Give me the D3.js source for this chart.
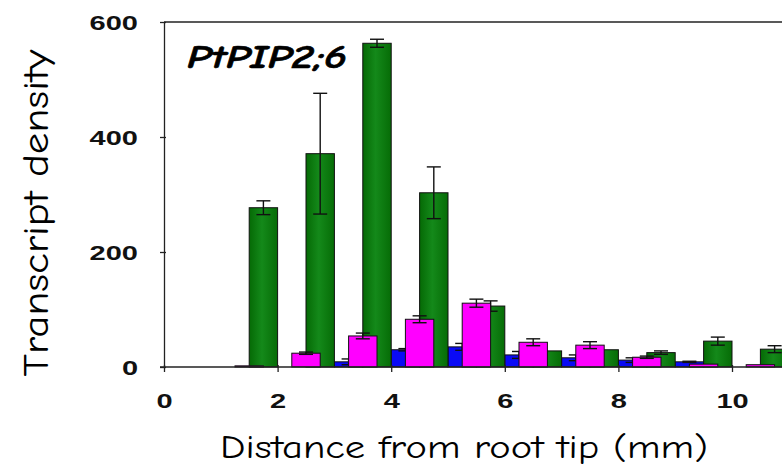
<!DOCTYPE html>
<html>
<head>
<meta charset="utf-8">
<script src="https://cdn.jsdelivr.net/npm/d3@7"></script>
<style>
  html, body { margin: 0; padding: 0; background: #fff; }
  svg { display: block; }
</style>
</head>
<body>
<svg id="chart" width="782" height="470"></svg>
<script>
// ---- data ----
const categories = [0, 1, 2, 3, 4, 5, 6, 7, 8, 9, 10];          // start of each 1 mm segment
const blueValues    = [0, 0, 0, 9, 30, 35, 21, 16, 12, 9, 0];
const blueErrors    = [0, 0, 0, 5, 2, 6, 6, 5, 4, 1, 0];
const magentaValues = [0, 2, 24, 54, 83, 111, 43, 38, 17, 5, 4];
const magentaErrors = [0, 0, 2, 5, 6, 7, 6, 6, 2, 0, 0];
const greenValues   = [0, 277, 371, 563, 303, 106, 28, 30, 25, 45, 31];
const greenErrors   = [0, 12, 105, 7, 45, 9, 0, 0, 3, 7, 6];
const yTicks = [0, 200, 400, 600];
const xTicks = [0, 2, 4, 6, 8, 10];
const xTickLabels = ["0", "2", "4", "6", "8", "10"];
const geneLabel = "PtPIP2;6";
const xTitle = "Distance from root tip (mm)";
const yTitle = "Transcript density";

// ---- layout ----
const svg = d3.select("#chart");
svg.append("rect").attr("width", 782).attr("height", 470).attr("fill", "#fff");

const x = d3.scaleLinear().domain([0, 10]).range([164, 732]);
const y = d3.scaleLinear().domain([0, 600]).range([367, 22]);
const xEnd = x(12);
const stretch = 1.45;
const comic = "'Comic Sans MS','Comic Neue','Noto Sans','DejaVu Sans',sans-serif";

// green gradient
const defs = svg.append("defs");
const g1 = defs.append("linearGradient").attr("id", "gGreen").attr("x1", "0").attr("x2", "1").attr("y1", "0").attr("y2", "0");
g1.append("stop").attr("offset", "0%").attr("stop-color", "#056a05");
g1.append("stop").attr("offset", "45%").attr("stop-color", "#14891a");
g1.append("stop").attr("offset", "100%").attr("stop-color", "#066c06");

// series: offsets within each 1 mm segment (bars overlap by half)
const series = [
  { name: "blue",    values: blueValues,    errors: blueErrors,    fill: "#0a0af5",        off: 0.0 },
  { name: "green",   values: greenValues,   errors: greenErrors,   fill: "url(#gGreen)",   off: 0.5 },
  { name: "magenta", values: magentaValues, errors: magentaErrors, fill: "#ff00ff",        off: 0.25 }
];
const barW = 0.5;

// top border
svg.append("line").attr("x1", x(0)).attr("x2", xEnd).attr("y1", y(600)).attr("y2", y(600))
  .attr("stroke", "#222").attr("stroke-width", 1.3);

// bars
series.forEach(s => {
  const gg = svg.append("g").attr("class", "series-" + s.name);
  gg.selectAll("rect").data(categories.map((c, i) => ({ c, v: s.values[i] })).filter(d => d.v > 0))
    .join("rect")
    .attr("x", d => x(d.c + s.off))
    .attr("width", d => x(d.c + s.off + barW) - x(d.c + s.off))
    .attr("y", d => y(d.v))
    .attr("height", d => y(0) - y(d.v))
    .attr("fill", s.fill)
    .attr("stroke", "#111")
    .attr("stroke-width", 1);
  const eb = categories.map((c, i) => ({ c, v: s.values[i], e: s.errors[i] })).filter(d => d.e > 0);
  const eg = gg.append("g").attr("stroke", "#111").attr("stroke-width", 1.4);
  eb.forEach(d => {
    const cx = x(d.c + s.off + barW / 2);
    eg.append("line").attr("x1", cx).attr("x2", cx).attr("y1", y(d.v + d.e)).attr("y2", y(Math.max(0, d.v - d.e)));
    eg.append("line").attr("x1", cx - 7).attr("x2", cx + 7).attr("y1", y(d.v + d.e)).attr("y2", y(d.v + d.e));
    eg.append("line").attr("x1", cx - 7).attr("x2", cx + 7).attr("y1", y(Math.max(0, d.v - d.e))).attr("y2", y(Math.max(0, d.v - d.e)));
  });
});

// y axis
const yAxis = svg.append("g").attr("transform", `translate(${x(0)},0)`)
  .call(d3.axisLeft(y).tickValues(yTicks).tickSize(4).tickSizeOuter(0).tickPadding(22).tickFormat(d3.format("d")));
yAxis.select(".domain").attr("stroke", "#222").attr("stroke-width", 1.3);
yAxis.selectAll(".tick line").attr("stroke", "#222").attr("stroke-width", 1.3).attr("x2", -4).attr("x1", 2);
yAxis.selectAll("text")
  .attr("font-family", "'Liberation Sans', Arial, sans-serif").attr("font-weight", "bold")
  .attr("font-size", 20).attr("fill", "#111").attr("dy", "0.36em");

// x axis
const xAxis = svg.append("g").attr("transform", `translate(0,${y(0)})`)
  .call(d3.axisBottom(x).tickValues(xTicks).tickSize(5).tickSizeOuter(0).tickPadding(22)
    .tickFormat((d, i) => xTickLabels[i]));
xAxis.select(".domain").attr("stroke", "#222").attr("stroke-width", 1.3).attr("d", `M${x(0) - 4},0H${xEnd}`);
xAxis.selectAll(".tick line").attr("stroke", "#222").attr("stroke-width", 1.3).attr("y1", -2);
xAxis.selectAll("text")
  .attr("font-family", "'Liberation Sans', Arial, sans-serif").attr("font-weight", "bold")
  .attr("font-size", 20).attr("fill", "#111");

// stretch tick labels horizontally like the reference
svg.selectAll(".tick text").each(function () {
  const w = this.getComputedTextLength();
  d3.select(this).attr("textLength", w * stretch).attr("lengthAdjust", "spacingAndGlyphs");
});

// gene label
svg.append("text").attr("x", 187).attr("y", 68)
  .attr("font-family", comic).attr("font-weight", "bold").attr("font-style", "italic")
  .attr("font-size", 32).attr("fill", "#000").attr("stroke", "#000").attr("stroke-width", 0.6)
  .attr("textLength", 160).attr("lengthAdjust", "spacingAndGlyphs")
  .text(geneLabel);

// axis titles
svg.append("text").attr("x", 464).attr("y", 458).attr("text-anchor", "middle")
  .attr("font-family", comic).attr("font-size", 33).attr("fill", "#000")
  .attr("textLength", 488).attr("lengthAdjust", "spacingAndGlyphs")
  .text(xTitle);

svg.append("text").attr("transform", "translate(48,213) rotate(-90)").attr("text-anchor", "middle")
  .attr("font-family", comic).attr("font-size", 36).attr("fill", "#000")
  .attr("textLength", 327).attr("lengthAdjust", "spacingAndGlyphs")
  .text(yTitle);
</script>
</body>
</html>
